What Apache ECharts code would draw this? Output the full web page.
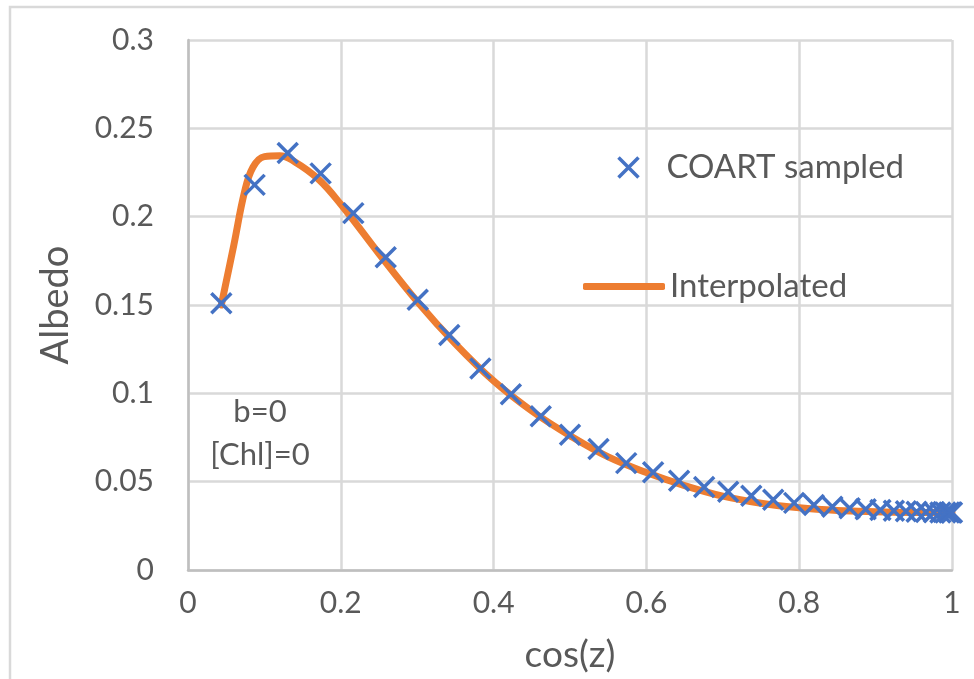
<!DOCTYPE html>
<html>
<head>
<meta charset="utf-8">
<title>Albedo vs cos(z)</title>
<script src="https://cdn.jsdelivr.net/npm/echarts@6/dist/echarts.min.js"></script>
<style>
  html, body { margin: 0; padding: 0; background: #ffffff; }
  #chart { width: 974px; height: 679px; }
</style>
</head>
<body>
<div id="chart"></div>
<script>
// COART sampled albedo at each cos(z)
const cosZ = [0.0436, 0.0872, 0.1305, 0.1736, 0.2164, 0.2588, 0.3007, 0.3420, 0.3827, 0.4226,
              0.4617, 0.5000, 0.5373, 0.5736, 0.6088, 0.6428, 0.6756, 0.7071, 0.7373, 0.7660,
              0.7934, 0.8192, 0.8434, 0.8660, 0.8870, 0.9063, 0.9239, 0.9397, 0.9537, 0.9659,
              0.9763, 0.9848, 0.9914, 0.9962, 0.9990, 1.0000];
const albedoSampled = [0.151, 0.218, 0.236, 0.2245, 0.202, 0.177, 0.153, 0.133, 0.114, 0.0995,
                       0.087, 0.0765, 0.0685, 0.0605, 0.0553, 0.0505, 0.047, 0.0443, 0.042, 0.0398,
                       0.038, 0.0368, 0.0358, 0.035, 0.0344, 0.0339, 0.0335, 0.0332, 0.033, 0.0328,
                       0.0327, 0.0326, 0.0325, 0.0325, 0.0325, 0.0325];

// Interpolated curve
const cosZInterp = [0.0436, 0.06, 0.074, 0.085, 0.10, 0.12, 0.14, 0.17, 0.2, 0.25, 0.3,
                    0.35, 0.4, 0.45, 0.5, 0.55, 0.6, 0.65, 0.7, 0.75, 0.8, 0.85, 0.9, 0.95, 1.0];
const albedoInterp = [0.150, 0.184, 0.214, 0.228, 0.234, 0.2345, 0.231, 0.2215,
                      0.207, 0.179, 0.152, 0.128, 0.107, 0.090, 0.076, 0.064, 0.0552, 0.0478,
                      0.0418, 0.0378, 0.0352, 0.0337, 0.033, 0.0326, 0.0325];

// Axis tick values
const xTicks = [0, 0.2, 0.4, 0.6, 0.8, 1];
const yTicks = [0, 0.05, 0.1, 0.15, 0.2, 0.25, 0.3];

const seriesNames = ['COART sampled', 'Interpolated'];
const notes = ['b=0', '[Chl]=0'];

const FONT = 'Lato, "Open Sans", sans-serif';
const TEXT = '#595959';
const GRID = '#d9d9d9';
const BLUE = '#4472C4';
const ORANGE = '#ED7D31';
const CROSS = 'path://M0,0L10,10M10,0L0,10';

const sampled = cosZ.map((x, i) => [x, albedoSampled[i]]);
const interp = cosZInterp.map((x, i) => [x, albedoInterp[i]]);

const chart = echarts.init(document.getElementById('chart'), null, { renderer: 'canvas' });

chart.setOption({
  animation: false,
  backgroundColor: '#ffffff',
  textStyle: { fontFamily: FONT },
  grid: { left: 188, right: 22, top: 40, bottom: 109, containLabel: false },
  xAxis: {
    type: 'value',
    min: xTicks[0],
    max: xTicks[xTicks.length - 1],
    interval: 0.2,
    name: 'cos(z)',
    nameLocation: 'middle',
    nameGap: 67,
    nameTextStyle: { color: TEXT, fontSize: 37, fontFamily: FONT },
    axisLine: { show: true, lineStyle: { color: '#bfbfbf', width: 2.5 } },
    axisTick: { show: false },
    axisLabel: {
      color: TEXT, fontSize: 30, fontFamily: FONT, margin: 18,
      formatter: v => String(+v.toFixed(2))
    },
    splitLine: { show: true, lineStyle: { color: GRID, width: 2.5 } }
  },
  yAxis: {
    type: 'value',
    min: yTicks[0],
    max: yTicks[yTicks.length - 1],
    interval: 0.05,
    name: 'Albedo',
    nameLocation: 'middle',
    nameGap: 113,
    nameRotate: 90,
    nameTextStyle: { color: TEXT, fontSize: 38, fontFamily: FONT },
    axisLine: { show: true, lineStyle: { color: '#bfbfbf', width: 2.5 } },
    axisTick: { show: false },
    axisLabel: {
      color: TEXT, fontSize: 30, fontFamily: FONT, margin: 34,
      formatter: v => String(+v.toFixed(2))
    },
    splitLine: { show: true, lineStyle: { color: GRID, width: 2.5 } }
  },
  legend: [
    {
      data: [{ name: seriesNames[0], icon: CROSS }],
      left: 611, top: 146,
      itemWidth: 20, itemHeight: 20,
      itemStyle: { color: 'none', borderColor: BLUE, borderWidth: 3.5 },
      textStyle: { color: TEXT, fontSize: 33, fontFamily: FONT, padding: [0, 0, 0, 23] },
      selectedMode: false
    },
    {
      data: [{ name: seriesNames[1], icon: 'roundRect' }],
      left: 578, top: 265,
      itemWidth: 82, itemHeight: 7,
      itemStyle: { color: ORANGE, borderWidth: 0 },
      lineStyle: { width: 0 },
      textStyle: { color: TEXT, fontSize: 33, fontFamily: FONT, padding: [0, 0, 0, 0] },
      selectedMode: false
    }
  ],
  graphic: [
    {
      type: 'rect',
      shape: { x: 10, y: 7, width: 1000, height: 720 },
      style: { fill: 'none', stroke: GRID, lineWidth: 2.5 },
      silent: true, z: -1
    },
    {
      type: 'text', x: 260, y: 412,
      style: { text: notes[0], fill: TEXT, font: '31px ' + FONT, align: 'center', verticalAlign: 'middle' }
    },
    {
      type: 'text', x: 260, y: 455,
      style: { text: notes[1], fill: TEXT, font: '31px ' + FONT, align: 'center', verticalAlign: 'middle' }
    }
  ],
  series: [
    {
      name: seriesNames[1],
      type: 'line',
      data: interp,
      smooth: 0.4,
      symbol: 'none',
      lineStyle: { color: ORANGE, width: 7, cap: 'round', join: 'round' },
      itemStyle: { color: ORANGE },
      z: 2
    },
    {
      name: seriesNames[0],
      type: 'scatter',
      data: sampled,
      symbol: CROSS,
      symbolSize: 20,
      itemStyle: { color: 'none', borderColor: BLUE, borderWidth: 3.5, opacity: 1 },
      z: 3
    }
  ]
});
</script>
</body>
</html>
